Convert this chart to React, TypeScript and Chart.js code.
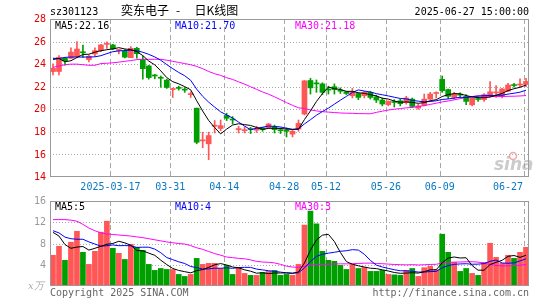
import React, { useEffect, useRef } from "react";
import { Chart, registerables } from "chart.js";
Chart.register(...registerables);

const dates = [
  "2025-03-03","2025-03-04","2025-03-05","2025-03-06","2025-03-07","2025-03-10","2025-03-11","2025-03-12","2025-03-13","2025-03-14",
  "2025-03-17","2025-03-18","2025-03-19","2025-03-20","2025-03-21","2025-03-24","2025-03-25","2025-03-26","2025-03-27","2025-03-28",
  "2025-03-31","2025-04-01","2025-04-02","2025-04-03","2025-04-07","2025-04-08","2025-04-09","2025-04-10","2025-04-11","2025-04-14",
  "2025-04-15","2025-04-16","2025-04-17","2025-04-18","2025-04-21","2025-04-22","2025-04-23","2025-04-24","2025-04-25","2025-04-28",
  "2025-04-29","2025-04-30","2025-05-06","2025-05-07","2025-05-08","2025-05-09","2025-05-12","2025-05-13","2025-05-14","2025-05-15",
  "2025-05-16","2025-05-19","2025-05-20","2025-05-21","2025-05-22","2025-05-23","2025-05-26","2025-05-27","2025-05-28","2025-05-29",
  "2025-05-30","2025-06-03","2025-06-04","2025-06-05","2025-06-06","2025-06-09","2025-06-10","2025-06-11","2025-06-12","2025-06-13",
  "2025-06-16","2025-06-17","2025-06-18","2025-06-19","2025-06-20","2025-06-23","2025-06-24","2025-06-25","2025-06-26","2025-06-27",
];

const open = [
  23.34, 23.35, 24.52, 24.52, 24.66, 25.1, 24.4, 24.9, 25.2, 25.75,
  25.7, 25.2, 25.15, 24.57, 25.4, 24.4, 23.84, 23.0, 22.78, 22.58,
  21.75, 21.9, 21.75, 21.3, 20.1, 17.2, 16.94, 18.5, 18.3, 19.45,
  19.1, 18.2, 18.1, 18.25, 18.15, 18.35, 18.35, 18.45, 18.15, 18.15,
  17.8, 18.25, 19.58, 22.55, 22.3, 22.25, 21.75, 22.0, 21.65, 21.55,
  21.2, 21.4, 21.2, 21.5, 21.1, 20.82, 20.4, 20.65, 20.75, 20.6,
  20.9, 20.1, 20.35, 20.9, 21.4, 22.65, 21.75, 21.05, 21.3, 21.15,
  20.4, 20.9, 20.85, 21.2, 21.45, 21.15, 21.6, 22.15, 22.15, 22.2,
];
const high = [
  24.02, 24.75, 24.55, 25.45, 26.0, 25.7, 24.8, 25.45, 25.75, 25.98,
  25.75, 25.3, 25.3, 25.55, 25.5, 24.72, 23.9, 23.1, 22.95, 22.67,
  21.88, 22.05, 21.93, 21.55, 20.1, 17.97, 17.97, 19.0, 19.05, 19.65,
  19.35, 18.5, 18.45, 18.4, 18.5, 18.4, 18.75, 18.6, 18.35, 18.35,
  18.2, 19.05, 22.55, 22.75, 22.6, 22.35, 22.05, 22.25, 21.9, 21.6,
  21.85, 21.45, 21.6, 21.6, 21.25, 21.0, 20.75, 20.85, 20.9, 21.15,
  21.0, 20.45, 21.35, 21.5, 21.55, 22.95, 21.8, 21.5, 21.45, 21.3,
  21.0, 21.1, 21.4, 22.45, 22.1, 21.85, 22.3, 22.3, 22.7, 22.75,
];
const low = [
  23.05, 23.05, 23.9, 24.5, 24.6, 24.6, 24.2, 24.7, 25.1, 25.4,
  25.3, 24.9, 24.55, 24.57, 24.52, 22.67, 22.67, 22.7, 21.95, 21.85,
  21.05, 21.7, 21.5, 21.05, 16.94, 16.6, 15.53, 17.9, 18.1, 19.0,
  18.7, 17.9, 17.9, 17.85, 17.95, 18.05, 18.3, 17.9, 17.85, 17.55,
  17.55, 18.05, 19.5, 21.35, 21.5, 21.3, 21.35, 21.35, 21.4, 21.3,
  21.0, 20.85, 21.0, 20.9, 20.6, 20.3, 20.3, 20.2, 20.3, 20.45,
  20.15, 20.0, 20.3, 20.85, 21.0, 21.5, 20.95, 20.9, 21.05, 20.4,
  20.3, 20.7, 20.7, 21.1, 21.05, 21.0, 21.55, 21.95, 21.95, 22.0,
];
const close = [
  23.64, 24.6, 24.28, 25.07, 25.34, 25.0, 24.7, 25.2, 25.7, 25.8,
  25.35, 25.25, 24.62, 25.4, 24.93, 23.6, 22.81, 22.95, 22.75, 21.93,
  21.8, 21.85, 21.7, 21.35, 17.08, 17.25, 17.67, 18.55, 18.55, 19.2,
  19.05, 18.25, 18.15, 18.2, 18.3, 18.2, 18.7, 18.2, 18.1, 18.05,
  18.05, 18.75, 22.52, 21.9, 22.25, 21.5, 21.7, 21.75, 21.6, 21.4,
  21.5, 21.05, 21.5, 21.05, 20.82, 20.47, 20.7, 20.6, 20.5, 21.0,
  20.25, 20.3, 20.9, 21.35, 21.45, 21.65, 21.15, 21.35, 21.25, 20.7,
  21.0, 20.87, 21.3, 21.55, 21.5, 21.8, 22.15, 22.1, 22.2, 22.47,
];
const volume = [
  5.78, 7.48, 4.83, 8.24, 10.3, 6.34, 4.07, 6.53, 10.13, 12.2,
  7.1, 6.15, 5.0, 7.86, 7.29, 6.72, 4.07, 2.94, 3.3, 3.12,
  3.1, 2.18, 1.8, 2.18, 5.2, 4.07, 4.26, 4.26, 3.3, 3.88,
  2.18, 3.5, 2.37, 2.0, 2.0, 2.56, 2.75, 2.94, 2.0, 2.18,
  2.0, 4.07, 11.46, 14.1, 11.7, 6.53, 4.83, 4.64, 3.88, 3.12,
  4.07, 3.3, 3.5, 2.75, 2.75, 2.94, 2.18, 2.1, 2.0, 2.94,
  3.3, 1.8, 3.45, 3.7, 3.06, 9.75, 6.34, 4.45, 2.75, 3.3,
  2.37, 2.0, 4.45, 8.05, 5.4, 4.26, 5.78, 5.2, 6.34, 7.29,
];

// moving-average values before enough history is on screen
const priceMa5Head = [24.52, 24.5, 24.22, 24.3];
const priceMa10Head = [24.4, 24.5, 24.6, 24.63, 24.63, 24.63, 24.63, 24.65, 24.75];
const priceMa30Head = [
  23.72, 23.84, 23.95, 24.0, 24.0, 23.95, 23.9, 23.9, 24.05, 24.08,
  24.12, 24.18, 24.25, 24.32, 24.4, 24.43, 24.43, 24.43, 24.43, 24.35,
  24.25, 24.15, 24.05, 23.95, 23.8, 23.6, 23.35, 23.15, 23.0,
];
const volMa5Head = [10.1, 9.4, 7.8, 7.1];
const volMa10Head = [10.4, 10.0, 9.2, 8.9, 8.8, 8.8, 8.3, 7.9, 7.5];
const volMa30Head = [
  12.5, 12.5, 12.5, 12.4, 12.2, 11.6, 10.9, 10.4, 10.0, 9.8,
  9.7, 9.6, 9.5, 9.4, 9.25, 9.1, 8.9, 8.7, 8.5, 8.3,
  8.15, 8.0, 7.9, 7.6, 7.2, 6.9, 6.5, 6.1, 5.8,
];

const priceTicks = [14, 16, 18, 20, 22, 24, 26, 28];
const volTicks = [4, 8, 12, 16];
const xTickDates = ["2025-03-17", "2025-03-31", "2025-04-14", "2025-04-28", "2025-05-12", "2025-05-26", "2025-06-09", "2025-06-27"];
const xTickLabels = ["2025-03-17", "03-31", "04-14", "04-28", "05-12", "05-26", "06-09", "06-27"];
const priceMaLabels = ["MA5:22.16", "MA10:21.70", "MA30:21.18"];
const volMaLabels = ["MA5:5", "MA10:4", "MA30:3"];
const stockCode = "sz301123";
const titleName = "奕东电子";
const titleKind = "日K线图";
const timeStamp = "2025-06-27 15:00:00";

const UP = "#ff5656";
const DOWN = "#009f00";
const MA_COLORS = ["#000000", "#0000ff", "#ff00ff"];
const MONO = '10px "DejaVu Sans Mono", monospace';

function sma(values: number[], n: number, head: number[]): number[] {
  return values.map((_, i) => {
    if (i < n - 1) return head[i];
    let s = 0;
    for (let k = i - n + 1; k <= i; k++) s += values[k];
    return s / n;
  });
}

const barColors = close.map((c, i) => (c >= open[i] ? UP : DOWN));

function line(ctx: CanvasRenderingContext2D, x1: number, y1: number, x2: number, y2: number) {
  ctx.beginPath();
  ctx.moveTo(x1, y1);
  ctx.lineTo(x2, y2);
  ctx.stroke();
}

function drawGrid(chart: any, yTicks: number[], yMin: number, yMax: number) {
  const { ctx, chartArea: a, scales } = chart;
  const x = scales.x, y = scales.y;
  ctx.save();
  ctx.strokeStyle = "#a8a8a8";
  ctx.lineWidth = 1;
  ctx.setLineDash([1, 2]);
  for (const t of yTicks) {
    if (t <= yMin || t >= yMax) continue;
    const py = Math.round(y.getPixelForValue(t)) + 0.5;
    line(ctx, a.left, py, a.right, py);
  }
  ctx.setLineDash([5, 3]);
  for (const d of xTickDates) {
    const idx = dates.indexOf(d);
    const px = Math.round(x.getPixelForValue(idx) - 2.4) + 0.5;
    line(ctx, px, a.top, px, a.bottom);
  }
  ctx.restore();
}

function drawBox(chart: any) {
  const { ctx, chartArea: a } = chart;
  ctx.save();
  ctx.strokeStyle = "#999999";
  ctx.lineWidth = 1;
  ctx.setLineDash([]);
  const l = Math.round(a.left) + 0.5, t = Math.round(a.top) + 0.5;
  const r = Math.round(a.right) - 0.5, b = Math.round(a.bottom) - 0.5;
  ctx.strokeRect(l, t, r - l, b - t);
  ctx.restore();
}

const pricePlugin = {
  id: "priceDecor",
  beforeDatasetsDraw(chart: any) {
    drawGrid(chart, priceTicks, 14, 28);
  },
  afterDraw(chart: any) {
    const { ctx, chartArea: a, scales } = chart;
    const x = scales.x, y = scales.y;
    drawBox(chart);
    ctx.save();
    // y tick labels
    ctx.font = MONO;
    ctx.fillStyle = "#e00000";
    ctx.textAlign = "right";
    ctx.textBaseline = "middle";
    for (const t of priceTicks) ctx.fillText(String(t), 46, y.getPixelForValue(t) + 0.5);
    // x date labels
    ctx.fillStyle = "#0a78c2";
    ctx.textAlign = "center";
    ctx.textBaseline = "alphabetic";
    xTickDates.forEach((d, k) => {
      const label = xTickLabels[k];
      let px = x.getPixelForValue(dates.indexOf(d)) - 2.4;
      const w = ctx.measureText(label).width;
      if (px + w / 2 > a.right - 6) px = a.right - 6 - w / 2;
      ctx.fillText(label, px, a.bottom + 13);
    });
    // MA labels
    ctx.textAlign = "left";
    priceMaLabels.forEach((s, k) => {
      ctx.fillStyle = MA_COLORS[k];
      ctx.fillText(s, a.left + 5 + 120 * k, a.top + 9.5);
    });
    // header
    ctx.fillStyle = "#000";
    ctx.fillText(stockCode, 50, 15);
    ctx.textAlign = "right";
    ctx.fillText(timeStamp, 529, 15);
    ctx.textAlign = "left";
    ctx.font = '12px "Noto Sans CJK SC", sans-serif';
    ctx.fillText(titleName, 121, 14.5);
    ctx.fillText("-", 176, 14.5);
    ctx.fillText(titleKind, 194.5, 14.5);
    // sina watermark
    ctx.fillStyle = "rgba(160,160,160,0.55)";
    ctx.font = 'italic bold 17px "DejaVu Sans", sans-serif';
    ctx.fillText("sina", 494, 170);
    ctx.strokeStyle = "rgba(235,150,150,0.8)";
    ctx.lineWidth = 1.5;
    ctx.beginPath();
    ctx.arc(513, 156, 3.5, 0, Math.PI * 2);
    ctx.stroke();
    ctx.restore();
  },
};

const volPlugin = {
  id: "volDecor",
  beforeDatasetsDraw(chart: any) {
    drawGrid(chart, volTicks, 0, 16);
  },
  afterDraw(chart: any) {
    const { ctx, chartArea: a, scales } = chart;
    const y = scales.y;
    drawBox(chart);
    ctx.save();
    ctx.font = MONO;
    ctx.fillStyle = "#999999";
    ctx.textAlign = "right";
    ctx.textBaseline = "middle";
    for (const t of volTicks) ctx.fillText(String(t), 46, y.getPixelForValue(t) + 0.5);
    ctx.textBaseline = "alphabetic";
    ctx.textAlign = "left";
    ctx.font = 'italic 10px "DejaVu Serif", serif';
    ctx.fillStyle = "#aaaaaa";
    ctx.fillText("x万", 28, a.bottom + 3);
    ctx.font = MONO;
    volMaLabels.forEach((s, k) => {
      ctx.fillStyle = MA_COLORS[k];
      ctx.fillText(s, a.left + 5 + 120 * k, a.top + 8.5);
    });
    ctx.fillStyle = "#666666";
    ctx.fillText("Copyright 2025 SINA.COM", 50, a.bottom + 10);
    ctx.textAlign = "right";
    ctx.fillText("http://finance.sina.com.cn", 529, a.bottom + 10);
    ctx.restore();
  },
};

function lineDs(data: number[], color: string) {
  return {
    type: "line" as const,
    data,
    borderColor: color,
    borderWidth: 1,
    pointRadius: 0,
    tension: 0,
    order: 0,
  };
}

export default function App() {
  const priceRef = useRef<HTMLCanvasElement>(null);
  const volRef = useRef<HTMLCanvasElement>(null);

  useEffect(() => {
    const ma5 = sma(close, 5, priceMa5Head);
    const ma10 = sma(close, 10, priceMa10Head);
    const ma30 = sma(close, 30, priceMa30Head);
    const vma5 = sma(volume, 5, volMa5Head);
    const vma10 = sma(volume, 10, volMa10Head);
    const vma30 = sma(volume, 30, volMa30Head);

    const bodies = open.map((o, i) => [o, close[i]]);
    const wicks = low.map((l, i) => [l, high[i]]);

    const priceChart = new Chart(priceRef.current as HTMLCanvasElement, {
      type: "bar",
      data: {
        labels: dates,
        datasets: [
          lineDs(ma5, MA_COLORS[0]),
          lineDs(ma10, MA_COLORS[1]),
          lineDs(ma30, MA_COLORS[2]),
          {
            type: "bar",
            data: bodies as any,
            backgroundColor: barColors,
            borderWidth: 0,
            barThickness: 5,
            grouped: false,
            minBarLength: 1,
            order: 1,
          },
          {
            type: "bar",
            data: wicks as any,
            backgroundColor: barColors,
            borderWidth: 0,
            barThickness: 1,
            grouped: false,
            order: 2,
          },
        ] as any,
      },
      options: {
        responsive: false,
        animation: false,
        events: [],
        layout: { padding: { left: 50, right: 16, top: 19, bottom: 18 } },
        plugins: { legend: { display: false }, tooltip: { enabled: false } },
        scales: {
          x: { display: false, offset: true },
          y: { display: false, min: 14, max: 28 },
        },
      },
      plugins: [pricePlugin],
    });

    const volChart = new Chart(volRef.current as HTMLCanvasElement, {
      type: "bar",
      data: {
        labels: dates,
        datasets: [
          lineDs(vma5, MA_COLORS[0]),
          lineDs(vma10, MA_COLORS[1]),
          lineDs(vma30, MA_COLORS[2]),
          {
            type: "bar",
            data: volume,
            backgroundColor: barColors,
            borderWidth: 0,
            barThickness: 5,
            grouped: false,
            order: 1,
          },
        ] as any,
      },
      options: {
        responsive: false,
        animation: false,
        events: [],
        layout: { padding: { left: 50, right: 16, top: 6, bottom: 14 } },
        plugins: { legend: { display: false }, tooltip: { enabled: false } },
        scales: {
          x: { display: false, offset: true },
          y: { display: false, min: 0, max: 16 },
        },
      },
      plugins: [volPlugin],
    });

    return () => {
      priceChart.destroy();
      volChart.destroy();
    };
  }, []);

  return (
    <div style={{ position: "absolute", left: 0, top: 0, width: 545, height: 300, background: "#fff" }}>
      <canvas ref={priceRef} width={545} height={195} style={{ position: "absolute", left: 0, top: 0, width: 545, height: 195 }} />
      <canvas ref={volRef} width={545} height={105} style={{ position: "absolute", left: 0, top: 195, width: 545, height: 105 }} />
    </div>
  );
}
